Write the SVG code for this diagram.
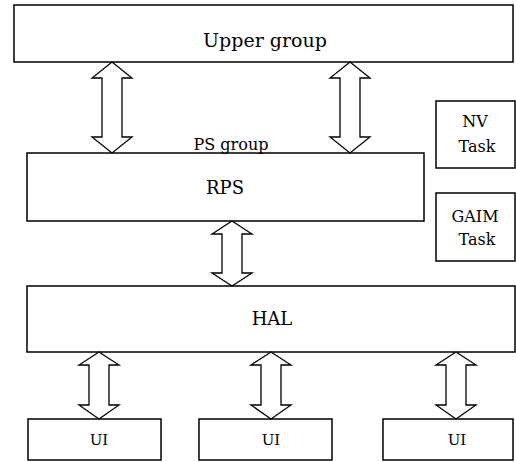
<svg xmlns="http://www.w3.org/2000/svg" width="516" height="462" viewBox="0 0 516 462">
<style>
.box{fill:#fff;stroke:#000;stroke-width:1.5}
.arr{fill:#fff;stroke:#000;stroke-width:1.3;stroke-linejoin:miter}
text{font-family:"DejaVu Serif","Liberation Serif",serif;fill:#000;text-anchor:middle}
.t19{font-size:19px}.t18{font-size:18px}.t16{font-size:16px}.t15{font-size:15px}
</style>
<rect x="0" y="0" width="516" height="462" fill="#fff"/>
<g id="upper-group"><rect class="box" x="14" y="5" width="499" height="57"/><text class="t19" x="265" y="47">Upper group</text></g>
<g id="ps-group"><rect class="box" x="27" y="153" width="397" height="68"/><text class="t16" x="231" y="150">PS group</text><text class="t18" x="225" y="194">RPS</text></g>
<g id="nv-task"><rect class="box" x="436" y="101" width="79" height="67"/><text class="t16" x="475" y="127">NV</text><text class="t16" x="477" y="152">Task</text></g>
<g id="gaim-task"><rect class="box" x="436" y="193" width="79" height="68"/><text class="t16" x="475" y="222">GAIM</text><text class="t16" x="477" y="245">Task</text></g>
<g id="hal"><rect class="box" x="27" y="286" width="488" height="66"/><text class="t18" x="272" y="325">HAL</text></g>
<g id="ui1"><rect class="box" x="28" y="419" width="133" height="41"/><text class="t15" x="99" y="445">UI</text></g>
<g id="ui2"><rect class="box" x="199" y="419" width="133" height="41"/><text class="t15" x="271" y="445">UI</text></g>
<g id="ui3"><rect class="box" x="383" y="419" width="130" height="41"/><text class="t15" x="457" y="445">UI</text></g>
<g id="connectors">
<polygon class="arr" points="112,62 132,78 122,78 122,137 132,137 112,153 92,137 102,137 102,78 92,78"/>
<polygon class="arr" points="350,62 370,78 360,78 360,137 370,137 350,153 330,137 340,137 340,78 330,78"/>
<polygon class="arr" points="232,221 252,234 242,234 242,273 252,273 232,286 212,273 222,273 222,234 212,234"/>
<polygon class="arr" points="99,352 119,365 109,365 109,405 119,405 99,419 79,405 89,405 89,365 79,365"/>
<polygon class="arr" points="271,352 291,365 281,365 281,405 291,405 271,419 251,405 261,405 261,365 251,365"/>
<polygon class="arr" points="456,352 476,365 466,365 466,405 476,405 456,419 436,405 446,405 446,365 436,365"/>
</g>
</svg>
